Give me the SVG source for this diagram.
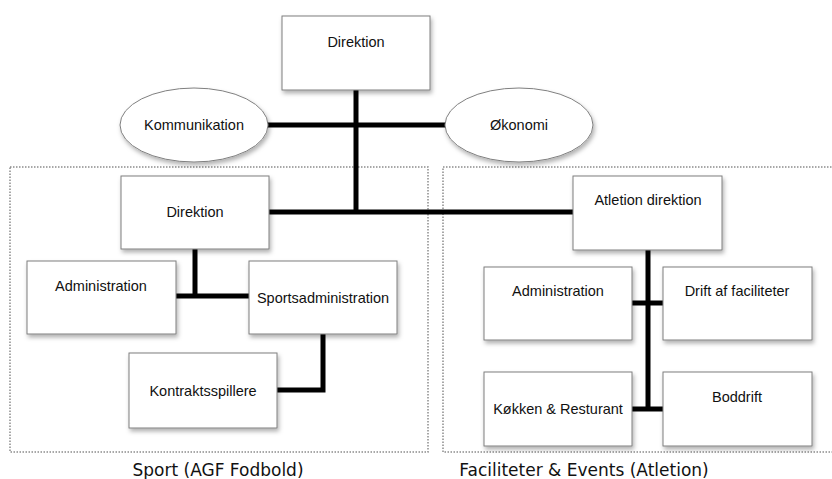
<svg xmlns="http://www.w3.org/2000/svg" width="832" height="479" viewBox="0 0 832 479">
<style>
.box{fill:#fff;stroke:#7f7f7f;stroke-width:1;filter:url(#sh)}
.ell{fill:#fff;stroke:#7f7f7f;stroke-width:1;filter:url(#sh)}
.t{font-family:"Liberation Sans",Arial,sans-serif;font-size:14.5px;fill:#111;text-anchor:middle}
.lbl{font-family:"DejaVu Sans",sans-serif;font-size:17px;fill:#111;text-anchor:middle}
.grp{fill:none;stroke:#8c8c8c;stroke-width:1.5;stroke-dasharray:1.5 1.5}
.c{fill:none;stroke:#000;stroke-width:5}
</style>
<defs>
<filter id="sh" x="-10%" y="-10%" width="130%" height="140%">
<feDropShadow dx="1.5" dy="3" stdDeviation="2" flood-color="#000" flood-opacity="0.3"/>
</filter>
</defs>
<g id="groups">
<rect class="grp" x="10" y="167" width="418" height="285"/>
<rect class="grp" x="443" y="167" width="390" height="285"/>
<text class="lbl" x="218" y="476">Sport (AGF Fodbold)</text>
<text class="lbl" x="584" y="476">Faciliteter &amp; Events (Atletion)</text>
</g>
<g id="connectors">
<path class="c" d="M356 90V212"/>
<path class="c" d="M268 125H445"/>
<path class="c" d="M269 212H573"/>
<path class="c" d="M195 249V296"/>
<path class="c" d="M176 296H249"/>
<path class="c" d="M323 334V390H277"/>
<path class="c" d="M648 250V411"/>
<path class="c" d="M632 303H663"/>
<path class="c" d="M632 409H663"/>
</g>
<g id="top-direktion"><rect class="box" x="282" y="16" width="148" height="74"/><text class="t" x="356" y="47">Direktion</text></g>
<g id="kommunikation"><ellipse class="ell" cx="194" cy="125" rx="74" ry="37"/><text class="t" x="194" y="130">Kommunikation</text></g>
<g id="okonomi"><ellipse class="ell" cx="519" cy="125" rx="74" ry="37"/><text class="t" x="519" y="130">Økonomi</text></g>
<g id="sport-direktion"><rect class="box" x="121" y="176" width="148" height="73"/><text class="t" x="195" y="217">Direktion</text></g>
<g id="sport-administration"><rect class="box" x="27" y="261" width="149" height="73"/><text class="t" x="101" y="291">Administration</text></g>
<g id="sportsadministration"><rect class="box" x="249" y="261" width="148" height="73"/><text class="t" x="323" y="303">Sportsadministration</text></g>
<g id="kontraktsspillere"><rect class="box" x="129" y="353" width="148" height="75"/><text class="t" x="203" y="396">Kontraktsspillere</text></g>
<g id="atletion-direktion"><rect class="box" x="573" y="176" width="149" height="74"/><text class="t" x="648" y="205">Atletion direktion</text></g>
<g id="atl-administration"><rect class="box" x="484" y="267" width="148" height="73"/><text class="t" x="558" y="296">Administration</text></g>
<g id="drift"><rect class="box" x="663" y="267" width="149" height="73"/><text class="t" x="737" y="296">Drift af faciliteter</text></g>
<g id="kokken"><rect class="box" x="484" y="372" width="148" height="74"/><text class="t" x="558" y="414">Køkken &amp; Resturant</text></g>
<g id="boddrift"><rect class="box" x="663" y="372" width="149" height="74"/><text class="t" x="737" y="402">Boddrift</text></g>
</svg>
